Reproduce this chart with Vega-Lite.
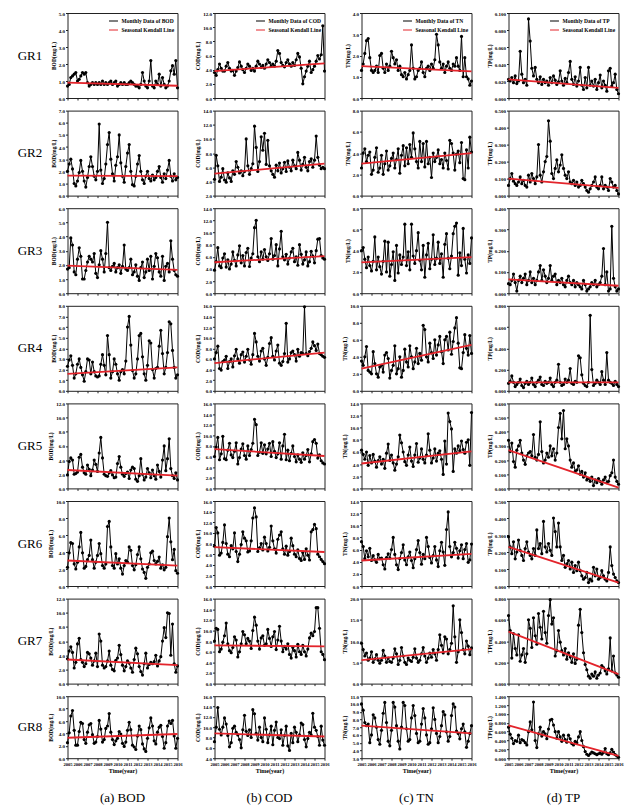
{
"$schema":"https://vega.github.io/schema/vega-lite/v6.json",
"padding":{"left":17.5,"top":10,"right":2,"bottom":0},
"config":{
 "font":"Liberation Serif",
 "view":{"stroke":"#222","strokeWidth":1},
 "mark":{"color":"black"},
 "line":{"strokeWidth":1},
 "point":{"size":10,"filled":true,"opacity":1},
 "axis":{"grid":false,"domain":false,"labelFontSize":5,"labelFontWeight":"bold","labelColor":"#000","titleFontSize":5.5,"titleFontWeight":"bold","titleColor":"#000","tickSize":2,"tickColor":"#222","labelPadding":1,"titlePadding":2},
 "axisX":{"tickCount":11,"labelFlush":false,"labelOverlap":false,"labelFontSize":4.6},
 "legend":{"orient":"top-right","offset":3,"labelFontSize":5.5,"labelFontWeight":"bold","labelColor":"#000","symbolType":"stroke","symbolStrokeWidth":1.6,"symbolSize":80,"rowPadding":0,"padding":0,"labelOffset":3},
 "text":{"fontSize":13}
},
"datasets":{
"k":[
{"t":2005,"b1":0.9,"b2":1.65,"b3":1.95,"b4":1.6,"b5":2.6,"b6":3.0,"b7":3.4,"b8":3.3,"c1":3.8,"c2":5.1,"c3":5.1,"c4":5.2,"c5":7.4,"c6":7.3,"c7":7.2,"c8":8.8,"n1":1.5,"n2":3.0,"n3":2.9,"n4":2.6,"n5":4.1,"n6":4.2,"n7":5.5,"n8":7.2,"p1":0.022,"p2":0.1,"p3":0.065,"p4":0.08,"p5":0.27,"p6":0.23,"p7":0.49,"p8":0.74},
{"t":2016,"b1":0.72,"b2":1.6,"b3":1.65,"b4":2.2,"b5":1.8,"b6":2.4,"b7":2.6,"b8":3.9,"c1":4.9,"c2":6.5,"c3":6.1,"c4":7.2,"c5":6.1,"c6":6.4,"c7":7.0,"c8":8.2,"n1":1.25,"n2":4.0,"n3":3.4,"n4":5.4,"n5":6.1,"n6":5.3,"n7":8.1,"n8":6.2,"p1":0.012,"p2":0.045,"p3":0.035,"p4":0.08,"p5":0.005,"p6":0.02,"p7":0.09,"p8":0.05}
],
"m":[
{"t":2005,"b1":0.7,"b2":2.0,"b3":1.7,"b4":2.3,"b5":1.9,"b6":2.2,"b7":3.5,"b8":2.5,"c1":3.6,"c2":4.3,"c3":3.8,"c4":6.0,"c5":6.0,"c6":7.5,"c7":8.0,"c8":7.2,"n1":1.3,"n2":2.6,"n3":4.0,"n4":3.5,"n5":6.3,"n6":7.3,"n7":9.5,"n8":10.0,"p1":0.022,"p2":0.06,"p3":0.045,"p4":0.07,"p5":0.34,"p6":0.29,"p7":0.64,"p8":0.7},
{"t":2005.17,"b1":0.8,"b2":2.6,"b3":1.8,"b4":2.9,"b5":3.8,"b6":3.9,"b7":4.6,"b8":4.1,"c1":3.2,"c2":7.7,"c3":5.2,"c4":7.2,"c5":7.8,"c6":11.0,"c7":10.4,"c8":10.0,"n1":1.6,"n2":4.0,"n3":4.3,"n4":3.0,"n5":5.6,"n6":6.5,"n7":8.0,"n8":9.2,"p1":0.02,"p2":0.1,"p3":0.04,"p4":0.09,"p5":0.26,"p6":0.23,"p7":0.5,"p8":0.54},
{"t":2005.33,"b1":1.2,"b2":3.0,"b3":3.9,"b4":3.3,"b5":4.3,"b6":5.1,"b7":5.2,"b8":6.8,"c1":4.0,"c2":6.2,"c3":7.5,"c4":8.4,"c5":9.6,"c6":10.0,"c7":10.2,"c8":13.8,"n1":2.1,"n2":4.4,"n3":3.2,"n4":4.0,"n5":4.8,"n6":4.5,"n7":6.5,"n8":7.6,"p1":0.024,"p2":0.13,"p3":0.06,"p4":0.14,"p5":0.32,"p6":0.19,"p7":0.24,"p8":0.45},
{"t":2005.5,"b1":1.3,"b2":2.2,"b3":3.4,"b4":2.4,"b5":4.0,"b6":5.0,"b7":4.4,"b8":7.7,"c1":4.8,"c2":4.0,"c3":4.5,"c4":4.2,"c5":5.4,"c6":5.8,"c7":6.0,"c8":9.6,"n1":2.7,"n2":3.2,"n3":2.4,"n4":5.2,"n5":6.0,"n6":5.8,"n7":7.2,"n8":7.2,"p1":0.018,"p2":0.085,"p3":0.09,"p4":0.08,"p5":0.19,"p6":0.26,"p7":0.47,"p8":0.33},
{"t":2005.67,"b1":1.4,"b2":1.0,"b3":1.5,"b4":1.2,"b5":2.0,"b6":2.6,"b7":2.2,"b8":4.5,"c1":4.2,"c2":4.6,"c3":4.2,"c4":3.9,"c5":6.5,"c6":6.2,"c7":6.5,"c8":8.5,"n1":2.8,"n2":3.8,"n3":3.4,"n4":2.4,"n5":3.8,"n6":4.8,"n7":5.5,"n8":7.4,"p1":0.026,"p2":0.07,"p3":0.05,"p4":0.04,"p5":0.15,"p6":0.16,"p7":0.33,"p8":0.4},
{"t":2005.83,"b1":1.5,"b2":0.8,"b3":1.3,"b4":1.6,"b5":2.1,"b6":2.0,"b7":3.0,"b8":2.1,"c1":3.8,"c2":5.8,"c3":5.8,"c4":5.5,"c5":9.8,"c6":8.2,"c7":7.8,"c8":10.0,"n1":1.9,"n2":4.1,"n3":2.6,"n4":2.2,"n5":5.4,"n6":6.2,"n7":6.0,"n8":5.0,"p1":0.017,"p2":0.06,"p3":0.01,"p4":0.06,"p5":0.27,"p6":0.2,"p7":0.27,"p8":0.38},
{"t":2006,"b1":1.0,"b2":1.2,"b3":2.4,"b4":2.5,"b5":2.3,"b6":2.8,"b7":5.6,"b8":2.1,"c1":3.8,"c2":4.2,"c3":6.5,"c4":5.8,"c5":5.6,"c6":11.5,"c7":9.0,"c8":11.8,"n1":1.3,"n2":2.0,"n3":2.1,"n4":2.0,"n5":4.2,"n6":4.2,"n7":7.5,"n8":6.0,"p1":0.02,"p2":0.08,"p3":0.06,"p4":0.08,"p5":0.3,"p6":0.27,"p7":0.46,"p8":0.52},
{"t":2006.17,"b1":1.1,"b2":1.9,"b3":3.2,"b4":3.0,"b5":4.4,"b6":4.6,"b7":6.4,"b8":4.3,"c1":4.5,"c2":3.9,"c3":4.3,"c4":6.5,"c5":5.4,"c6":8.0,"c7":11.4,"c8":10.6,"n1":1.2,"n2":2.4,"n3":3.0,"n4":4.6,"n5":5.6,"n6":5.0,"n7":5.0,"n8":8.6,"p1":0.055,"p2":0.11,"p3":0.08,"p4":0.11,"p5":0.34,"p6":0.21,"p7":0.21,"p8":0.35},
{"t":2006.33,"b1":1.3,"b2":2.9,"b3":2.6,"b4":2.2,"b5":4.8,"b6":6.3,"b7":3.4,"b8":5.8,"c1":5.0,"c2":5.2,"c3":5.5,"c4":4.2,"c5":7.2,"c6":6.0,"c7":7.5,"c8":8.4,"n1":1.3,"n2":3.6,"n3":5.3,"n4":3.2,"n5":4.5,"n6":4.3,"n7":5.8,"n8":8.2,"p1":0.028,"p2":0.07,"p3":0.05,"p4":0.05,"p5":0.25,"p6":0.18,"p7":0.27,"p8":0.42},
{"t":2006.5,"b1":1.5,"b2":2.0,"b3":1.0,"b4":1.5,"b5":3.0,"b6":3.9,"b7":3.0,"b8":5.6,"c1":4.2,"c2":4.5,"c3":4.0,"c4":5.5,"c5":8.5,"c6":5.5,"c7":6.2,"c8":6.2,"n1":1.5,"n2":4.5,"n3":2.2,"n4":2.0,"n5":3.5,"n6":3.9,"n7":6.8,"n8":7.0,"p1":0.018,"p2":0.09,"p3":0.07,"p4":0.03,"p5":0.2,"p6":0.15,"p7":0.33,"p8":0.4},
{"t":2006.67,"b1":1.4,"b2":1.2,"b3":1.0,"b4":0.9,"b5":2.2,"b6":2.1,"b7":2.4,"b8":3.0,"c1":3.8,"c2":4.0,"c3":4.8,"c4":6.0,"c5":6.3,"c6":7.6,"c7":5.8,"c8":7.0,"n1":1.2,"n2":2.2,"n3":3.4,"n4":1.6,"n5":4.6,"n6":5.2,"n7":5.5,"n8":5.4,"p1":0.022,"p2":0.06,"p3":0.09,"p4":0.07,"p5":0.17,"p6":0.22,"p7":0.2,"p8":0.35},
{"t":2006.83,"b1":1.5,"b2":0.7,"b3":1.6,"b4":1.8,"b5":2.0,"b6":2.3,"b7":2.8,"b8":2.4,"c1":3.9,"c2":5.5,"c3":6.8,"c4":4.5,"c5":5.8,"c6":7.0,"c7":6.8,"c8":9.8,"n1":2.0,"n2":2.6,"n3":2.5,"n4":2.8,"n5":5.2,"n6":4.5,"n7":4.8,"n8":4.8,"p1":0.015,"p2":0.05,"p3":0.04,"p4":0.09,"p5":0.23,"p6":0.26,"p7":0.28,"p8":0.3},
{"t":2007,"b1":0.9,"b2":1.5,"b3":2.2,"b4":3.0,"b5":3.3,"b6":3.1,"b7":4.4,"b8":4.2,"c1":3.2,"c2":5.0,"c3":5.4,"c4":6.6,"c5":7.0,"c6":10.0,"c7":8.8,"c8":10.2,"n1":2.1,"n2":3.8,"n3":1.8,"n4":3.0,"n5":4.0,"n6":4.6,"n7":5.5,"n8":6.6,"p1":0.093,"p2":0.12,"p3":0.06,"p4":0.06,"p5":0.25,"p6":0.2,"p7":0.6,"p8":0.6},
{"t":2007.17,"b1":0.7,"b2":2.4,"b3":2.6,"b4":2.9,"b5":2.7,"b6":3.6,"b7":4.2,"b8":5.4,"c1":3.8,"c2":6.8,"c3":4.5,"c4":7.8,"c5":8.6,"c6":6.5,"c7":8.2,"c8":9.0,"n1":1.4,"n2":2.0,"n3":3.0,"n4":2.2,"n5":4.8,"n6":3.5,"n7":7.8,"n8":8.8,"p1":0.067,"p2":0.08,"p3":0.1,"p4":0.08,"p5":0.26,"p6":0.18,"p7":0.52,"p8":0.82},
{"t":2007.33,"b1":0.8,"b2":3.2,"b3":2.4,"b4":1.6,"b5":1.8,"b6":5.4,"b7":3.6,"b8":5.6,"c1":4.3,"c2":6.0,"c3":6.3,"c4":6.0,"c5":4.6,"c6":4.6,"c7":5.0,"c8":8.5,"n1":1.2,"n2":3.0,"n3":4.9,"n4":4.2,"n5":3.3,"n6":2.8,"n7":6.5,"n8":10.2,"p1":0.035,"p2":0.13,"p3":0.05,"p4":0.12,"p5":0.23,"p6":0.16,"p7":0.34,"p8":0.64},
{"t":2007.5,"b1":0.9,"b2":2.4,"b3":2.2,"b4":2.7,"b5":2.6,"b6":3.1,"b7":2.6,"b8":3.8,"c1":5.1,"c2":5.2,"c3":7.8,"c4":5.2,"c5":5.8,"c6":6.0,"c7":6.0,"c8":7.6,"n1":1.6,"n2":4.2,"n3":2.0,"n4":4.5,"n5":5.8,"n6":4.7,"n7":5.0,"n8":7.6,"p1":0.026,"p2":0.1,"p3":0.07,"p4":0.06,"p5":0.38,"p6":0.22,"p7":0.62,"p8":1.27},
{"t":2007.67,"b1":0.8,"b2":1.6,"b3":2.8,"b4":1.8,"b5":4.0,"b6":2.1,"b7":3.2,"b8":2.4,"c1":4.5,"c2":5.5,"c3":5.0,"c4":6.8,"c5":7.4,"c6":7.8,"c7":7.5,"c8":6.0,"n1":1.3,"n2":2.4,"n3":4.8,"n4":3.8,"n5":7.3,"n6":5.3,"n7":6.0,"n8":5.2,"p1":0.036,"p2":0.07,"p3":0.04,"p4":0.04,"p5":0.22,"p6":0.18,"p7":0.45,"p8":0.4},
{"t":2007.83,"b1":0.9,"b2":1.3,"b3":1.4,"b4":1.4,"b5":3.4,"b6":2.8,"b7":4.3,"b8":2.6,"c1":4.0,"c2":4.8,"c3":6.2,"c4":7.3,"c5":8.4,"c6":10.2,"c7":9.8,"c8":9.5,"n1":1.5,"n2":2.8,"n3":1.6,"n4":1.5,"n5":4.6,"n6":4.6,"n7":5.2,"n8":4.6,"p1":0.022,"p2":0.11,"p3":0.06,"p4":0.08,"p5":0.2,"p6":0.33,"p7":0.37,"p8":0.24},
{"t":2008,"b1":0.8,"b2":2.0,"b3":1.1,"b4":1.3,"b5":2.4,"b6":3.6,"b7":2.4,"b8":3.5,"c1":3.6,"c2":5.4,"c3":4.5,"c4":5.4,"c5":6.2,"c6":9.0,"c7":9.2,"c8":12.3,"n1":2.2,"n2":3.5,"n3":2.7,"n4":2.4,"n5":5.5,"n6":6.0,"n7":5.0,"n8":6.6,"p1":0.018,"p2":0.3,"p3":0.1,"p4":0.1,"p5":0.24,"p6":0.22,"p7":0.66,"p8":0.55},
{"t":2008.17,"b1":0.9,"b2":5.9,"b3":2.0,"b4":1.4,"b5":5.0,"b6":5.0,"b7":7.0,"b8":6.1,"c1":4.2,"c2":10.0,"c3":6.7,"c4":6.5,"c5":5.5,"c6":8.5,"c7":7.5,"c8":9.2,"n1":1.9,"n2":4.0,"n3":3.9,"n4":3.0,"n5":4.2,"n6":8.0,"n7":6.0,"n8":10.2,"p1":0.025,"p2":0.12,"p3":0.13,"p4":0.13,"p5":0.47,"p6":0.25,"p7":0.53,"p8":0.7},
{"t":2008.33,"b1":0.8,"b2":2.1,"b3":3.0,"b4":2.5,"b5":7.2,"b6":3.8,"b7":6.0,"b8":4.7,"c1":4.8,"c2":6.2,"c3":7.4,"c4":7.8,"c5":8.0,"c6":6.4,"c7":8.5,"c8":8.4,"n1":1.6,"n2":2.6,"n3":1.2,"n4":5.3,"n5":3.0,"n6":5.2,"n7":8.2,"n8":9.6,"p1":0.016,"p2":0.08,"p3":0.06,"p4":0.06,"p5":0.26,"p6":0.19,"p7":0.42,"p8":0.5},
{"t":2008.5,"b1":1.0,"b2":1.0,"b3":2.4,"b4":3.4,"b5":4.3,"b6":2.4,"b7":2.6,"b8":2.6,"c1":4.5,"c2":5.0,"c3":4.4,"c4":5.8,"c5":6.2,"c6":6.6,"c7":8.0,"c8":9.5,"n1":1.8,"n2":3.4,"n3":4.5,"n4":2.0,"n5":4.0,"n6":3.5,"n7":7.0,"n8":7.2,"p1":0.022,"p2":0.14,"p3":0.11,"p4":0.05,"p5":0.18,"p6":0.38,"p7":0.68,"p8":0.6},
{"t":2008.67,"b1":0.8,"b2":1.4,"b3":1.5,"b4":2.4,"b5":2.0,"b6":2.1,"b7":2.2,"b8":3.0,"c1":3.9,"c2":5.8,"c3":5.8,"c4":5.0,"c5":7.3,"c6":8.5,"c7":6.6,"c8":8.0,"n1":1.3,"n2":4.4,"n3":1.9,"n4":2.6,"n5":5.2,"n6":2.7,"n7":4.5,"n8":5.2,"p1":0.018,"p2":0.2,"p3":0.08,"p4":0.09,"p5":0.2,"p6":0.23,"p7":0.48,"p8":0.55},
{"t":2008.83,"b1":0.9,"b2":2.6,"b3":2.8,"b4":1.5,"b5":1.8,"b6":2.6,"b7":2.4,"b8":4.8,"c1":4.2,"c2":6.5,"c3":6.5,"c4":6.8,"c5":8.5,"c6":12.8,"c7":10.0,"c8":13.4,"n1":1.5,"n2":2.1,"n3":3.6,"n4":4.0,"n5":8.8,"n6":4.5,"n7":5.5,"n8":4.2,"p1":0.02,"p2":0.23,"p3":0.05,"p4":0.07,"p5":0.25,"p6":0.2,"p7":0.38,"p8":0.44},
{"t":2009,"b1":0.8,"b2":4.2,"b3":5.0,"b4":5.2,"b5":1.7,"b6":7.0,"b7":3.2,"b8":5.2,"c1":3.8,"c2":11.8,"c3":10.8,"c4":10.8,"c5":13.0,"c6":14.7,"c7":12.5,"c8":12.6,"n1":1.1,"n2":3.8,"n3":2.7,"n4":1.6,"n5":7.5,"n6":5.5,"n7":8.5,"n8":7.0,"p1":0.015,"p2":0.44,"p3":0.07,"p4":0.08,"p5":0.22,"p6":0.25,"p7":0.64,"p8":0.66},
{"t":2009.17,"b1":0.9,"b2":5.2,"b3":1.8,"b4":3.4,"b5":2.2,"b6":7.6,"b7":4.6,"b8":7.2,"c1":4.5,"c2":8.8,"c3":12.0,"c4":9.2,"c5":12.0,"c6":13.0,"c7":11.0,"c8":8.8,"n1":1.0,"n2":4.7,"n3":3.4,"n4":2.4,"n5":6.0,"n6":6.8,"n7":6.5,"n8":10.2,"p1":0.024,"p2":0.32,"p3":0.13,"p4":0.12,"p5":0.3,"p6":0.21,"p7":0.79,"p8":0.86},
{"t":2009.33,"b1":1.0,"b2":3.0,"b3":1.6,"b4":1.2,"b5":2.5,"b6":4.6,"b7":2.6,"b8":4.2,"c1":5.2,"c2":5.4,"c3":6.0,"c4":6.5,"c5":6.2,"c6":6.5,"c7":8.0,"c8":7.5,"n1":1.2,"n2":2.8,"n3":6.5,"n4":4.9,"n5":4.4,"n6":4.3,"n7":5.0,"n8":9.8,"p1":0.018,"p2":0.13,"p3":0.06,"p4":0.06,"p5":0.23,"p6":0.18,"p7":0.56,"p8":0.88},
{"t":2009.5,"b1":0.8,"b2":1.8,"b3":1.9,"b4":1.8,"b5":1.9,"b6":2.4,"b7":2.0,"b8":3.0,"c1":4.8,"c2":6.8,"c3":5.2,"c4":5.6,"c5":6.8,"c6":7.2,"c7":6.5,"c8":10.0,"n1":0.9,"n2":4.5,"n3":2.6,"n4":3.4,"n5":3.8,"n6":3.5,"n7":4.5,"n8":6.8,"p1":0.026,"p2":0.1,"p3":0.08,"p4":0.04,"p5":0.28,"p6":0.4,"p7":0.62,"p8":0.75},
{"t":2009.67,"b1":0.9,"b2":1.2,"b3":2.1,"b4":3.0,"b5":1.5,"b6":2.1,"b7":1.8,"b8":2.2,"c1":4.3,"c2":10.3,"c3":6.8,"c4":7.5,"c5":8.6,"c6":8.0,"c7":8.6,"c8":8.0,"n1":1.1,"n2":3.0,"n3":3.9,"n4":2.8,"n5":5.5,"n6":4.8,"n7":6.0,"n8":5.2,"p1":0.021,"p2":0.16,"p3":0.09,"p4":0.08,"p5":0.2,"p6":0.32,"p7":0.26,"p8":0.6},
{"t":2009.83,"b1":1.0,"b2":2.5,"b3":1.5,"b4":2.5,"b5":1.6,"b6":3.8,"b7":3.3,"b8":2.8,"c1":4.6,"c2":8.4,"c3":5.6,"c4":8.0,"c5":6.6,"c6":6.8,"c7":9.0,"c8":7.2,"n1":1.3,"n2":4.8,"n3":2.2,"n4":5.3,"n5":6.8,"n6":5.6,"n7":5.5,"n8":5.4,"p1":0.016,"p2":0.21,"p3":0.04,"p4":0.1,"p5":0.25,"p6":0.23,"p7":0.31,"p8":0.45},
{"t":2010,"b1":0.7,"b2":3.2,"b3":1.8,"b4":1.6,"b5":3.5,"b6":2.6,"b7":3.6,"b8":3.2,"c1":4.2,"c2":10.8,"c3":7.2,"c4":6.0,"c5":8.2,"c6":9.2,"c7":7.2,"c8":11.8,"n1":2.5,"n2":3.6,"n3":6.5,"n4":4.0,"n5":4.5,"n6":4.2,"n7":5.2,"n8":8.2,"p1":0.019,"p2":0.14,"p3":0.06,"p4":0.25,"p5":0.43,"p6":0.37,"p7":0.5,"p8":0.6},
{"t":2010.17,"b1":0.8,"b2":5.0,"b3":2.0,"b4":1.0,"b5":4.5,"b6":3.2,"b7":5.4,"b8":4.3,"c1":4.8,"c2":6.4,"c3":6.0,"c4":4.8,"c5":6.5,"c6":8.0,"c7":7.5,"c8":9.6,"n1":1.4,"n2":5.9,"n3":3.5,"n4":2.6,"n5":3.6,"n6":3.0,"n7":6.2,"n8":9.8,"p1":0.032,"p2":0.18,"p3":0.05,"p4":0.08,"p5":0.53,"p6":0.23,"p7":0.39,"p8":0.48},
{"t":2010.33,"b1":0.9,"b2":2.7,"b3":1.4,"b4":1.8,"b5":3.0,"b6":2.1,"b7":4.1,"b8":3.9,"c1":5.4,"c2":9.8,"c3":5.4,"c4":6.3,"c5":7.4,"c6":6.6,"c7":10.2,"c8":7.0,"n1":0.9,"n2":4.4,"n3":2.8,"n4":3.4,"n5":5.5,"n6":4.5,"n7":8.2,"n8":8.5,"p1":0.02,"p2":0.24,"p3":0.07,"p4":0.05,"p5":0.35,"p6":0.15,"p7":0.31,"p8":0.38},
{"t":2010.5,"b1":0.8,"b2":1.6,"b3":1.9,"b4":2.0,"b5":2.0,"b6":1.4,"b7":2.6,"b8":2.4,"c1":5.0,"c2":6.2,"c3":6.5,"c4":8.9,"c5":8.5,"c6":7.3,"c7":8.5,"c8":8.5,"n1":1.0,"n2":3.2,"n3":4.0,"n4":5.0,"n5":7.4,"n6":6.0,"n7":6.0,"n8":6.2,"p1":0.015,"p2":0.16,"p3":0.04,"p4":0.06,"p5":0.55,"p6":0.18,"p7":0.27,"p8":0.52},
{"t":2010.67,"b1":0.9,"b2":1.1,"b3":3.4,"b4":1.6,"b5":1.7,"b6":2.4,"b7":1.8,"b8":1.9,"c1":4.5,"c2":5.5,"c3":9.0,"c4":10.0,"c5":6.0,"c6":11.3,"c7":7.0,"c8":10.2,"n1":1.3,"n2":2.6,"n3":5.7,"n4":3.2,"n5":4.3,"n6":7.5,"n7":5.0,"n8":5.0,"p1":0.023,"p2":0.12,"p3":0.03,"p4":0.11,"p5":0.28,"p6":0.11,"p7":0.33,"p8":0.42},
{"t":2010.83,"b1":0.8,"b2":2.4,"b3":1.7,"b4":2.8,"b5":2.1,"b6":3.0,"b7":2.4,"b8":2.6,"c1":4.8,"c2":5.0,"c3":5.6,"c4":6.5,"c5":8.8,"c6":8.5,"c7":8.8,"c8":6.6,"n1":1.4,"n2":5.1,"n3":3.1,"n4":4.4,"n5":5.0,"n6":5.5,"n7":5.5,"n8":5.2,"p1":0.018,"p2":0.1,"p3":0.06,"p4":0.08,"p5":0.35,"p6":0.13,"p7":0.23,"p8":0.36},
{"t":2011,"b1":0.8,"b2":3.5,"b3":1.6,"b4":6.0,"b5":2.3,"b6":2.8,"b7":3.2,"b8":4.5,"c1":4.5,"c2":4.6,"c3":6.2,"c4":5.8,"c5":7.0,"c6":7.0,"c7":9.8,"c8":9.4,"n1":1.7,"n2":3.2,"n3":2.2,"n4":3.6,"n5":6.5,"n6":3.6,"n7":7.0,"n8":7.4,"p1":0.03,"p2":0.14,"p3":0.08,"p4":0.1,"p5":0.3,"p6":0.15,"p7":0.29,"p8":0.52},
{"t":2011.17,"b1":0.9,"b2":4.2,"b3":1.8,"b4":7.0,"b5":1.4,"b6":4.6,"b7":2.9,"b8":5.8,"c1":5.2,"c2":6.3,"c3":8.0,"c4":7.5,"c5":5.8,"c6":6.2,"c7":6.4,"c8":11.0,"n1":1.2,"n2":4.9,"n3":4.5,"n4":7.7,"n5":4.8,"n6":5.2,"n7":8.5,"n8":9.4,"p1":0.043,"p2":0.08,"p3":0.05,"p4":0.21,"p5":0.2,"p6":0.1,"p7":0.25,"p8":0.44},
{"t":2011.33,"b1":1.0,"b2":2.0,"b3":2.4,"b4":4.3,"b5":2.6,"b6":4.2,"b7":2.2,"b8":4.6,"c1":6.7,"c2":5.5,"c3":4.5,"c4":8.6,"c5":6.5,"c6":8.8,"c7":8.2,"c8":8.0,"n1":1.0,"n2":2.7,"n3":1.5,"n4":7.2,"n5":4.2,"n6":4.5,"n7":6.5,"n8":8.2,"p1":0.022,"p2":0.07,"p3":0.04,"p4":0.07,"p5":0.15,"p6":0.14,"p7":0.2,"p8":0.33},
{"t":2011.5,"b1":0.9,"b2":0.9,"b3":1.3,"b4":1.9,"b5":3.0,"b6":2.4,"b7":1.6,"b8":2.1,"c1":6.3,"c2":6.6,"c3":7.3,"c4":5.2,"c5":8.6,"c6":9.6,"c7":10.8,"c8":7.8,"n1":1.4,"n2":5.1,"n3":3.6,"n4":4.0,"n5":5.5,"n6":8.0,"n7":5.0,"n8":6.0,"p1":0.016,"p2":0.09,"p3":0.06,"p4":0.06,"p5":0.18,"p6":0.08,"p7":0.28,"p8":0.3},
{"t":2011.67,"b1":0.8,"b2":0.8,"b3":1.5,"b4":1.2,"b5":2.8,"b6":1.9,"b7":3.4,"b8":1.8,"c1":5.0,"c2":5.2,"c3":10.2,"c4":4.8,"c5":5.5,"c6":10.2,"c7":8.0,"c8":9.5,"n1":1.5,"n2":3.0,"n3":4.7,"n4":3.4,"n5":9.0,"n6":6.5,"n7":6.0,"n8":4.8,"p1":0.025,"p2":0.06,"p3":0.03,"p4":0.09,"p5":0.12,"p6":0.12,"p7":0.19,"p8":0.38},
{"t":2011.83,"b1":0.7,"b2":1.6,"b3":2.0,"b4":1.6,"b5":1.3,"b6":2.5,"b7":5.0,"b8":1.4,"c1":4.6,"c2":5.8,"c3":6.0,"c4":5.5,"c5":8.0,"c6":7.0,"c7":6.0,"c8":6.5,"n1":1.3,"n2":3.6,"n3":2.3,"n4":5.6,"n5":6.3,"n6":4.7,"n7":7.2,"n8":5.0,"p1":0.014,"p2":0.08,"p3":0.05,"p4":0.08,"p5":0.13,"p6":0.09,"p7":0.23,"p8":0.35},
{"t":2012,"b1":0.7,"b2":2.6,"b3":1.2,"b4":3.0,"b5":1.0,"b6":3.7,"b7":4.2,"b8":3.6,"c1":4.4,"c2":6.7,"c3":5.5,"c4":7.0,"c5":10.2,"c6":6.0,"c7":7.0,"c8":8.4,"n1":1.6,"n2":1.7,"n3":3.2,"n4":4.5,"n5":4.2,"n6":3.8,"n7":6.2,"n8":6.8,"p1":0.02,"p2":0.05,"p3":0.04,"p4":0.33,"p5":0.16,"p6":0.14,"p7":0.55,"p8":0.48},
{"t":2012.17,"b1":0.6,"b2":3.3,"b3":0.9,"b4":5.2,"b5":1.8,"b6":4.6,"b7":2.4,"b8":5.2,"c1":5.0,"c2":5.4,"c3":6.4,"c4":12.7,"c5":5.4,"c6":7.5,"c7":6.5,"c8":10.2,"n1":1.4,"n2":4.0,"n3":5.5,"n4":3.8,"n5":5.0,"n6":5.0,"n7":8.0,"n8":9.5,"p1":0.036,"p2":0.06,"p3":0.03,"p4":0.31,"p5":0.1,"p6":0.09,"p7":0.7,"p8":0.6},
{"t":2012.33,"b1":0.8,"b2":2.0,"b3":1.8,"b4":5.4,"b5":4.2,"b6":3.2,"b7":1.7,"b8":4.6,"c1":5.4,"c2":6.9,"c3":4.8,"c4":5.4,"c5":7.2,"c6":5.8,"c7":7.5,"c8":6.4,"n1":1.8,"n2":3.2,"n3":2.7,"n4":6.0,"n5":6.5,"n6":6.5,"n7":7.0,"n8":8.0,"p1":0.015,"p2":0.09,"p3":0.02,"p4":0.15,"p5":0.12,"p6":0.06,"p7":0.48,"p8":0.4},
{"t":2012.5,"b1":1.5,"b2":1.3,"b3":2.2,"b4":3.2,"b5":2.0,"b6":2.0,"b7":1.2,"b8":2.3,"c1":4.8,"c2":6.0,"c3":5.8,"c4":6.0,"c5":5.2,"c6":6.5,"c7":5.5,"c8":5.5,"n1":3.0,"n2":3.6,"n3":3.3,"n4":4.2,"n5":4.5,"n6":4.3,"n7":5.5,"n8":6.2,"p1":0.01,"p2":0.07,"p3":0.06,"p4":0.07,"p5":0.08,"p6":0.04,"p7":0.29,"p8":0.26},
{"t":2012.67,"b1":1.0,"b2":1.0,"b3":1.1,"b4":1.6,"b5":1.2,"b6":1.6,"b7":2.8,"b8":1.5,"c1":4.5,"c2":5.5,"c3":6.8,"c4":7.2,"c5":6.6,"c6":9.0,"c7":4.8,"c8":8.8,"n1":2.5,"n2":4.3,"n3":4.8,"n4":5.4,"n5":5.8,"n6":3.2,"n7":8.0,"n8":5.0,"p1":0.024,"p2":0.05,"p3":0.04,"p4":0.05,"p5":0.11,"p6":0.05,"p7":0.18,"p8":0.15},
{"t":2012.83,"b1":0.7,"b2":1.6,"b3":1.5,"b4":1.0,"b5":1.6,"b6":0.9,"b7":4.3,"b8":1.1,"c1":5.0,"c2":7.0,"c3":7.4,"c4":7.5,"c5":8.0,"c6":7.6,"c7":6.8,"c8":7.0,"n1":1.7,"n2":3.0,"n3":2.8,"n4":6.4,"n5":6.2,"n6":5.8,"n7":11.5,"n8":5.8,"p1":0.012,"p2":0.03,"p3":0.01,"p4":0.04,"p5":0.06,"p6":0.08,"p7":0.13,"p8":0.09},
{"t":2013,"b1":0.6,"b2":2.0,"b3":2.4,"b4":2.4,"b5":2.8,"b6":2.2,"b7":2.2,"b8":3.2,"c1":4.6,"c2":6.2,"c3":5.2,"c4":6.8,"c5":6.0,"c6":6.0,"c7":6.2,"c8":10.0,"n1":1.4,"n2":3.4,"n3":3.7,"n4":4.6,"n5":4.8,"n6":7.2,"n7":9.0,"n8":7.2,"p1":0.036,"p2":0.02,"p3":0.02,"p4":0.08,"p5":0.07,"p6":0.02,"p7":0.07,"p8":0.06},
{"t":2013.17,"b1":1.0,"b2":1.4,"b3":1.6,"b4":4.7,"b5":2.2,"b6":2.6,"b7":2.7,"b8":4.9,"c1":5.4,"c2":5.8,"c3":6.0,"c4":5.6,"c5":5.0,"c6":5.5,"c7":5.0,"c8":9.0,"n1":1.6,"n2":2.6,"n3":1.5,"n4":3.2,"n5":2.3,"n6":5.6,"n7":7.2,"n8":9.0,"p1":0.015,"p2":0.04,"p3":0.03,"p4":0.71,"p5":0.05,"p6":0.04,"p7":0.05,"p8":0.1},
{"t":2013.33,"b1":2.2,"b2":1.2,"b3":2.6,"b4":4.5,"b5":1.5,"b6":3.9,"b7":3.0,"b8":6.5,"c1":6.3,"c2":8.1,"c3":4.6,"c4":7.8,"c5":6.3,"c6":6.8,"c7":7.4,"c8":7.2,"n1":1.2,"n2":4.0,"n3":4.6,"n4":6.0,"n5":7.8,"n6":3.4,"n7":11.0,"n8":8.6,"p1":0.02,"p2":0.06,"p3":0.05,"p4":0.2,"p5":0.08,"p6":0.03,"p7":0.09,"p8":0.14},
{"t":2013.5,"b1":0.7,"b2":1.7,"b3":1.0,"b4":2.0,"b5":2.6,"b6":4.1,"b7":2.8,"b8":5.2,"c1":5.8,"c2":7.0,"c3":8.0,"c4":6.5,"c5":5.5,"c6":5.2,"c7":6.0,"c8":8.5,"n1":1.5,"n2":3.3,"n3":5.6,"n4":6.4,"n5":4.0,"n6":9.3,"n7":10.5,"n8":6.4,"p1":0.014,"p2":0.08,"p3":0.04,"p4":0.05,"p5":0.02,"p6":0.11,"p7":0.07,"p8":0.12},
{"t":2013.67,"b1":0.6,"b2":1.3,"b3":1.9,"b4":1.2,"b5":1.8,"b6":3.0,"b7":3.1,"b8":2.8,"c1":4.2,"c2":5.6,"c3":6.4,"c4":7.2,"c5":4.9,"c6":4.8,"c7":5.5,"c8":10.8,"n1":1.7,"n2":2.5,"n3":3.3,"n4":4.8,"n5":12.4,"n6":12.2,"n7":7.0,"n8":5.2,"p1":0.022,"p2":0.11,"p3":0.06,"p4":0.07,"p5":0.06,"p6":0.06,"p7":0.11,"p8":0.1},
{"t":2013.83,"b1":1.0,"b2":1.5,"b3":2.8,"b4":2.1,"b5":1.3,"b6":2.6,"b7":4.0,"b8":2.3,"c1":2.0,"c2":6.4,"c3":4.8,"c4":7.0,"c5":6.7,"c6":6.3,"c7":7.2,"c8":10.5,"n1":1.4,"n2":5.2,"n3":2.3,"n4":6.9,"n5":11.0,"n6":6.5,"n7":8.0,"n8":5.8,"p1":0.01,"p2":0.05,"p3":0.03,"p4":0.1,"p5":0.04,"p6":0.1,"p7":0.05,"p8":0.08},
{"t":2014,"b1":0.8,"b2":2.0,"b3":2.5,"b4":2.2,"b5":3.3,"b6":2.9,"b7":2.5,"b8":4.2,"c1":3.0,"c2":7.4,"c3":5.5,"c4":15.8,"c5":5.5,"c6":5.0,"c7":6.0,"c8":7.6,"n1":1.3,"n2":4.9,"n3":3.5,"n4":4.3,"n5":9.8,"n6":4.8,"n7":9.5,"n8":8.5,"p1":0.018,"p2":0.04,"p3":0.04,"p4":0.08,"p5":0.07,"p6":0.04,"p7":0.08,"p8":0.1},
{"t":2014.17,"b1":1.4,"b2":2.4,"b3":1.5,"b4":4.2,"b5":2.4,"b6":3.4,"b7":3.2,"b8":5.0,"c1":3.8,"c2":6.0,"c3":6.8,"c4":7.0,"c5":6.2,"c6":7.0,"c7":5.2,"c8":6.2,"n1":1.6,"n2":4.0,"n3":5.6,"n4":5.8,"n5":2.8,"n6":5.5,"n7":18.3,"n8":10.0,"p1":0.027,"p2":0.06,"p3":0.05,"p4":0.06,"p5":0.05,"p6":0.05,"p7":0.1,"p8":0.12},
{"t":2014.33,"b1":0.7,"b2":1.5,"b3":1.2,"b4":5.7,"b5":1.6,"b6":2.1,"b7":3.8,"b8":5.3,"c1":4.5,"c2":5.5,"c3":4.5,"c4":6.6,"c5":7.3,"c6":5.8,"c7":6.5,"c8":7.8,"n1":1.5,"n2":2.4,"n3":6.3,"n4":7.4,"n5":6.5,"n6":7.2,"n7":11.0,"n8":9.6,"p1":0.012,"p2":0.11,"p3":0.08,"p4":0.18,"p5":0.03,"p6":0.09,"p7":0.17,"p8":0.09},
{"t":2014.5,"b1":1.2,"b2":1.1,"b3":2.6,"b4":3.5,"b5":4.0,"b6":2.5,"b7":6.0,"b8":3.5,"c1":5.2,"c2":6.8,"c3":5.2,"c4":7.4,"c5":5.0,"c6":4.9,"c7":8.6,"c8":9.0,"n1":1.9,"n2":3.9,"n3":6.6,"n4":8.6,"n5":5.8,"n6":6.2,"n7":5.0,"n8":6.5,"p1":0.02,"p2":0.04,"p3":0.21,"p4":0.1,"p5":0.06,"p6":0.06,"p7":0.15,"p8":0.13},
{"t":2014.67,"b1":0.8,"b2":1.8,"b3":0.9,"b4":1.6,"b5":6.0,"b6":1.9,"b7":7.9,"b8":1.6,"c1":3.6,"c2":7.2,"c3":6.9,"c4":8.0,"c5":6.5,"c6":10.2,"c7":9.5,"c8":8.5,"n1":1.5,"n2":4.2,"n3":1.7,"n4":5.6,"n5":7.0,"n6":4.6,"n7":7.5,"n8":6.2,"p1":0.015,"p2":0.06,"p3":0.04,"p4":0.06,"p5":0.08,"p6":0.04,"p7":0.12,"p8":0.22},
{"t":2014.83,"b1":0.6,"b2":1.4,"b3":1.9,"b4":2.2,"b5":2.5,"b6":2.2,"b7":6.5,"b8":2.5,"c1":4.0,"c2":6.0,"c3":6.1,"c4":9.2,"c5":8.8,"c6":10.6,"c7":9.0,"c8":12.7,"n1":1.3,"n2":3.1,"n3":3.8,"n4":2.7,"n5":6.2,"n6":5.8,"n7":15.0,"n8":5.5,"p1":0.008,"p2":0.05,"p3":0.1,"p4":0.36,"p5":0.04,"p6":0.03,"p7":0.09,"p8":0.1},
{"t":2015,"b1":0.7,"b2":2.1,"b3":2.1,"b4":3.6,"b5":4.2,"b6":5.8,"b7":10.0,"b8":5.2,"c1":4.5,"c2":7.0,"c3":5.0,"c4":8.5,"c5":9.2,"c6":11.6,"c7":9.8,"c8":10.0,"n1":2.9,"n2":5.0,"n3":2.6,"n4":2.6,"n5":7.8,"n6":6.8,"n7":12.0,"n8":6.8,"p1":0.032,"p2":0.03,"p3":0.01,"p4":0.1,"p5":0.05,"p6":0.08,"p7":0.14,"p8":0.08},
{"t":2015.17,"b1":1.0,"b2":2.9,"b3":1.5,"b4":6.5,"b5":7.0,"b6":8.0,"b7":9.9,"b8":6.0,"c1":5.2,"c2":10.4,"c3":7.0,"c4":7.6,"c5":8.5,"c6":10.8,"c7":14.3,"c8":9.4,"n1":1.0,"n2":1.6,"n3":6.1,"n4":4.5,"n5":6.4,"n6":4.5,"n7":8.0,"n8":7.4,"p1":0.035,"p2":0.1,"p3":0.02,"p4":0.08,"p5":0.09,"p6":0.23,"p7":0.43,"p8":0.12},
{"t":2015.33,"b1":1.6,"b2":1.6,"b3":3.7,"b4":6.3,"b5":2.8,"b6":5.2,"b7":4.0,"b8":5.6,"c1":6.0,"c2":7.4,"c3":8.9,"c4":8.8,"c5":5.7,"c6":6.0,"c7":14.3,"c8":8.2,"n1":1.9,"n2":1.5,"n3":3.2,"n4":6.6,"n5":5.8,"n6":6.0,"n7":7.0,"n8":6.4,"p1":0.014,"p2":0.08,"p3":0.315,"p4":0.07,"p5":0.11,"p6":0.12,"p7":0.12,"p8":0.2},
{"t":2015.5,"b1":1.9,"b2":1.2,"b3":2.4,"b4":3.8,"b5":1.8,"b6":3.1,"b7":8.4,"b8":6.1,"c1":5.5,"c2":6.3,"c3":9.0,"c4":7.0,"c5":6.3,"c6":5.5,"c7":10.4,"c8":6.5,"n1":1.0,"n2":4.3,"n3":1.9,"n4":5.0,"n5":7.6,"n6":7.0,"n7":10.0,"n8":4.4,"p1":0.018,"p2":0.05,"p3":0.07,"p4":0.05,"p5":0.2,"p6":0.07,"p7":0.26,"p8":0.14},
{"t":2015.67,"b1":1.4,"b2":1.8,"b3":1.6,"b4":2.2,"b5":1.4,"b6":4.3,"b7":2.8,"b8":3.6,"c1":6.1,"c2":5.8,"c3":6.2,"c4":6.8,"c5":5.2,"c6":5.0,"c7":6.0,"c8":10.2,"n1":0.9,"n2":2.6,"n3":3.6,"n4":4.2,"n5":8.0,"n6":3.9,"n7":8.8,"n8":5.2,"p1":0.028,"p2":0.06,"p3":0.03,"p4":0.09,"p5":0.08,"p6":0.05,"p7":0.1,"p8":0.08},
{"t":2015.83,"b1":2.2,"b2":1.3,"b3":1.3,"b4":1.2,"b5":2.2,"b6":1.8,"b7":1.6,"b8":1.6,"c1":10.2,"c2":6.0,"c3":5.8,"c4":6.5,"c5":4.8,"c6":4.6,"c7":5.5,"c8":7.5,"n1":0.6,"n2":5.5,"n3":2.8,"n4":6.5,"n5":3.8,"n6":4.3,"n7":6.8,"n8":6.2,"p1":0.01,"p2":0.03,"p3":0.01,"p4":0.06,"p5":0.05,"p6":0.03,"p7":0.08,"p8":0.05},
{"t":2016,"b1":0.6,"b2":1.5,"b3":1.2,"b4":1.5,"b5":1.2,"b6":1.5,"b7":2.5,"b8":3.2,"c1":3.8,"c2":5.8,"c3":5.6,"c4":6.3,"c5":4.6,"c6":4.2,"c7":4.5,"c8":6.5,"n1":0.8,"n2":4.1,"n3":5.2,"n4":4.4,"n5":12.5,"n6":6.9,"n7":8.4,"n8":7.2,"p1":0.005,"p2":0.01,"p3":0.02,"p4":0.04,"p5":0.03,"p6":0.02,"p7":0.06,"p8":0.02}
]
},
"resolve":{"scale":{"color":"independent"},"legend":{"color":"independent"}},
"columns":5,
"bounds":"flush",
"align":"each",
"spacing":{"row":12.6,"column":37},
"concat":[
{"width":1,"height":85,"view":{"stroke":null},"data":{"values":[{"g":"GR1"}]},"mark":"text","encoding":{"text":{"field":"g"}}},
{"width":110,"height":85,"encoding":{"x":{"field":"t","type":"quantitative","scale":{"domain":[2005,2016],"nice":false},"axis":{"labels":false,"title":null}},"y":{"field":"b1","type":"quantitative","scale":{"domain":[0,5],"nice":false},"axis":{"title":"BOD(mg/L)","values":[0,1,2,3,4,5],"format":".1f"}}},"layer":[{"data":{"name":"m"},"mark":{"type":"line","point":true},"encoding":{"color":{"datum":"Monthly Data of BOD","type":"nominal","scale":{"domain":["Monthly Data of BOD","Seasonal Kendall Line"],"range":["#000000","#e3242b"]},"legend":{"title":null}}}},{"data":{"name":"k"},"mark":{"type":"line","strokeWidth":1.8},"encoding":{"color":{"datum":"Seasonal Kendall Line","type":"nominal"}}}]},
{"width":110,"height":85,"encoding":{"x":{"field":"t","type":"quantitative","scale":{"domain":[2005,2016],"nice":false},"axis":{"labels":false,"title":null}},"y":{"field":"c1","type":"quantitative","scale":{"domain":[0,12],"nice":false},"axis":{"title":"COD(mg/L)","values":[0,2,4,6,8,10,12],"format":".1f"}}},"layer":[{"data":{"name":"m"},"mark":{"type":"line","point":true},"encoding":{"color":{"datum":"Monthly Data of COD","type":"nominal","scale":{"domain":["Monthly Data of COD","Seasonal Kendall Line"],"range":["#000000","#e3242b"]},"legend":{"title":null}}}},{"data":{"name":"k"},"mark":{"type":"line","strokeWidth":1.8},"encoding":{"color":{"datum":"Seasonal Kendall Line","type":"nominal"}}}]},
{"width":110,"height":85,"encoding":{"x":{"field":"t","type":"quantitative","scale":{"domain":[2005,2016],"nice":false},"axis":{"labels":false,"title":null}},"y":{"field":"n1","type":"quantitative","scale":{"domain":[0,4],"nice":false},"axis":{"title":"TN(mg/L)","values":[0,1,2,3,4],"format":".1f"}}},"layer":[{"data":{"name":"m"},"mark":{"type":"line","point":true},"encoding":{"color":{"datum":"Monthly Data of TN","type":"nominal","scale":{"domain":["Monthly Data of TN","Seasonal Kendall Line"],"range":["#000000","#e3242b"]},"legend":{"title":null}}}},{"data":{"name":"k"},"mark":{"type":"line","strokeWidth":1.8},"encoding":{"color":{"datum":"Seasonal Kendall Line","type":"nominal"}}}]},
{"width":110,"height":85,"encoding":{"x":{"field":"t","type":"quantitative","scale":{"domain":[2005,2016],"nice":false},"axis":{"labels":false,"title":null}},"y":{"field":"p1","type":"quantitative","scale":{"domain":[0,0.1],"nice":false},"axis":{"title":"TP(mg/L)","values":[0,0.02,0.04,0.06,0.08,0.1],"format":".3f"}}},"layer":[{"data":{"name":"m"},"mark":{"type":"line","point":true},"encoding":{"color":{"datum":"Monthly Data of TP","type":"nominal","scale":{"domain":["Monthly Data of TP","Seasonal Kendall Line"],"range":["#000000","#e3242b"]},"legend":{"title":null}}}},{"data":{"name":"k"},"mark":{"type":"line","strokeWidth":1.8},"encoding":{"color":{"datum":"Seasonal Kendall Line","type":"nominal"}}}]},

{"width":1,"height":85,"view":{"stroke":null},"data":{"values":[{"g":"GR2"}]},"mark":"text","encoding":{"text":{"field":"g"}}},
{"width":110,"height":85,"encoding":{"x":{"field":"t","type":"quantitative","scale":{"domain":[2005,2016],"nice":false},"axis":{"labels":false,"title":null}},"y":{"field":"b2","type":"quantitative","scale":{"domain":[0,7],"nice":false},"axis":{"title":"BOD(mg/L)","values":[0,1,2,3,4,5,6,7],"format":".1f"}}},"layer":[{"data":{"name":"m"},"mark":{"type":"line","point":true}},{"data":{"name":"k"},"mark":{"type":"line","color":"#e3242b","strokeWidth":1.8}}]},
{"width":110,"height":85,"encoding":{"x":{"field":"t","type":"quantitative","scale":{"domain":[2005,2016],"nice":false},"axis":{"labels":false,"title":null}},"y":{"field":"c2","type":"quantitative","scale":{"domain":[2,14],"nice":false,"zero":false},"axis":{"title":"COD(mg/L)","values":[2,4,6,8,10,12,14],"format":".1f"}}},"layer":[{"data":{"name":"m"},"mark":{"type":"line","point":true}},{"data":{"name":"k"},"mark":{"type":"line","color":"#e3242b","strokeWidth":1.8}}]},
{"width":110,"height":85,"encoding":{"x":{"field":"t","type":"quantitative","scale":{"domain":[2005,2016],"nice":false},"axis":{"labels":false,"title":null}},"y":{"field":"n2","type":"quantitative","scale":{"domain":[0,8],"nice":false},"axis":{"title":"TN(mg/L)","values":[0,2,4,6,8],"format":".1f"}}},"layer":[{"data":{"name":"m"},"mark":{"type":"line","point":true}},{"data":{"name":"k"},"mark":{"type":"line","color":"#e3242b","strokeWidth":1.8}}]},
{"width":110,"height":85,"encoding":{"x":{"field":"t","type":"quantitative","scale":{"domain":[2005,2016],"nice":false},"axis":{"labels":false,"title":null}},"y":{"field":"p2","type":"quantitative","scale":{"domain":[0,0.5],"nice":false},"axis":{"title":"TP(mg/L)","values":[0,0.1,0.2,0.3,0.4,0.5],"format":".3f"}}},"layer":[{"data":{"name":"m"},"mark":{"type":"line","point":true}},{"data":{"name":"k"},"mark":{"type":"line","color":"#e3242b","strokeWidth":1.8}}]},

{"width":1,"height":85,"view":{"stroke":null},"data":{"values":[{"g":"GR3"}]},"mark":"text","encoding":{"text":{"field":"g"}}},
{"width":110,"height":85,"encoding":{"x":{"field":"t","type":"quantitative","scale":{"domain":[2005,2016],"nice":false},"axis":{"labels":false,"title":null}},"y":{"field":"b3","type":"quantitative","scale":{"domain":[0,6],"nice":false},"axis":{"title":"BOD(mg/L)","values":[0,1,2,3,4,5,6],"format":".1f"}}},"layer":[{"data":{"name":"m"},"mark":{"type":"line","point":true}},{"data":{"name":"k"},"mark":{"type":"line","color":"#e3242b","strokeWidth":1.8}}]},
{"width":110,"height":85,"encoding":{"x":{"field":"t","type":"quantitative","scale":{"domain":[2005,2016],"nice":false},"axis":{"labels":false,"title":null}},"y":{"field":"c3","type":"quantitative","scale":{"domain":[0,14],"nice":false},"axis":{"title":"COD(mg/L)","values":[0,2,4,6,8,10,12,14],"format":".1f"}}},"layer":[{"data":{"name":"m"},"mark":{"type":"line","point":true}},{"data":{"name":"k"},"mark":{"type":"line","color":"#e3242b","strokeWidth":1.8}}]},
{"width":110,"height":85,"encoding":{"x":{"field":"t","type":"quantitative","scale":{"domain":[2005,2016],"nice":false},"axis":{"labels":false,"title":null}},"y":{"field":"n3","type":"quantitative","scale":{"domain":[0,8],"nice":false},"axis":{"title":"TN(mg/L)","values":[0,2,4,6,8],"format":".1f"}}},"layer":[{"data":{"name":"m"},"mark":{"type":"line","point":true}},{"data":{"name":"k"},"mark":{"type":"line","color":"#e3242b","strokeWidth":1.8}}]},
{"width":110,"height":85,"encoding":{"x":{"field":"t","type":"quantitative","scale":{"domain":[2005,2016],"nice":false},"axis":{"labels":false,"title":null}},"y":{"field":"p3","type":"quantitative","scale":{"domain":[0,0.4],"nice":false},"axis":{"title":"TP(mg/L)","values":[0,0.1,0.2,0.3,0.4],"format":".3f"}}},"layer":[{"data":{"name":"m"},"mark":{"type":"line","point":true}},{"data":{"name":"k"},"mark":{"type":"line","color":"#e3242b","strokeWidth":1.8}}]},

{"width":1,"height":85,"view":{"stroke":null},"data":{"values":[{"g":"GR4"}]},"mark":"text","encoding":{"text":{"field":"g"}}},
{"width":110,"height":85,"encoding":{"x":{"field":"t","type":"quantitative","scale":{"domain":[2005,2016],"nice":false},"axis":{"labels":false,"title":null}},"y":{"field":"b4","type":"quantitative","scale":{"domain":[0,8],"nice":false},"axis":{"title":"BOD(mg/L)","values":[0,1,2,3,4,5,6,7,8],"format":".1f"}}},"layer":[{"data":{"name":"m"},"mark":{"type":"line","point":true}},{"data":{"name":"k"},"mark":{"type":"line","color":"#e3242b","strokeWidth":1.8}}]},
{"width":110,"height":85,"encoding":{"x":{"field":"t","type":"quantitative","scale":{"domain":[2005,2016],"nice":false},"axis":{"labels":false,"title":null}},"y":{"field":"c4","type":"quantitative","scale":{"domain":[0,16],"nice":false},"axis":{"title":"COD(mg/L)","values":[0,2,4,6,8,10,12,14,16],"format":".1f"}}},"layer":[{"data":{"name":"m"},"mark":{"type":"line","point":true}},{"data":{"name":"k"},"mark":{"type":"line","color":"#e3242b","strokeWidth":1.8}}]},
{"width":110,"height":85,"encoding":{"x":{"field":"t","type":"quantitative","scale":{"domain":[2005,2016],"nice":false},"axis":{"labels":false,"title":null}},"y":{"field":"n4","type":"quantitative","scale":{"domain":[0,10],"nice":false},"axis":{"title":"TN(mg/L)","values":[0,2,4,6,8,10],"format":".1f"}}},"layer":[{"data":{"name":"m"},"mark":{"type":"line","point":true}},{"data":{"name":"k"},"mark":{"type":"line","color":"#e3242b","strokeWidth":1.8}}]},
{"width":110,"height":85,"encoding":{"x":{"field":"t","type":"quantitative","scale":{"domain":[2005,2016],"nice":false},"axis":{"labels":false,"title":null}},"y":{"field":"p4","type":"quantitative","scale":{"domain":[0,0.8],"nice":false},"axis":{"title":"TP(mg/L)","values":[0,0.2,0.4,0.6,0.8],"format":".3f"}}},"layer":[{"data":{"name":"m"},"mark":{"type":"line","point":true}},{"data":{"name":"k"},"mark":{"type":"line","color":"#e3242b","strokeWidth":1.8}}]},

{"width":1,"height":85,"view":{"stroke":null},"data":{"values":[{"g":"GR5"}]},"mark":"text","encoding":{"text":{"field":"g"}}},
{"width":110,"height":85,"encoding":{"x":{"field":"t","type":"quantitative","scale":{"domain":[2005,2016],"nice":false},"axis":{"labels":false,"title":null}},"y":{"field":"b5","type":"quantitative","scale":{"domain":[0,12],"nice":false},"axis":{"title":"BOD(mg/L)","values":[0,2,4,6,8,10,12],"format":".1f"}}},"layer":[{"data":{"name":"m"},"mark":{"type":"line","point":true}},{"data":{"name":"k"},"mark":{"type":"line","color":"#e3242b","strokeWidth":1.8}}]},
{"width":110,"height":85,"encoding":{"x":{"field":"t","type":"quantitative","scale":{"domain":[2005,2016],"nice":false},"axis":{"labels":false,"title":null}},"y":{"field":"c5","type":"quantitative","scale":{"domain":[0,16],"nice":false},"axis":{"title":"COD(mg/L)","values":[0,2,4,6,8,10,12,14,16],"format":".1f"}}},"layer":[{"data":{"name":"m"},"mark":{"type":"line","point":true}},{"data":{"name":"k"},"mark":{"type":"line","color":"#e3242b","strokeWidth":1.8}}]},
{"width":110,"height":85,"encoding":{"x":{"field":"t","type":"quantitative","scale":{"domain":[2005,2016],"nice":false},"axis":{"labels":false,"title":null}},"y":{"field":"n5","type":"quantitative","scale":{"domain":[0,14],"nice":false},"axis":{"title":"TN(mg/L)","values":[0,2,4,6,8,10,12,14],"format":".1f"}}},"layer":[{"data":{"name":"m"},"mark":{"type":"line","point":true}},{"data":{"name":"k"},"mark":{"type":"line","color":"#e3242b","strokeWidth":1.8}}]},
{"width":110,"height":85,"encoding":{"x":{"field":"t","type":"quantitative","scale":{"domain":[2005,2016],"nice":false},"axis":{"labels":false,"title":null}},"y":{"field":"p5","type":"quantitative","scale":{"domain":[0,0.6],"nice":false},"axis":{"title":"TP(mg/L)","values":[0,0.1,0.2,0.3,0.4,0.5,0.6],"format":".3f"}}},"layer":[{"data":{"name":"m"},"mark":{"type":"line","point":true}},{"data":{"name":"k"},"mark":{"type":"line","color":"#e3242b","strokeWidth":1.8}}]},

{"width":1,"height":85,"view":{"stroke":null},"data":{"values":[{"g":"GR6"}]},"mark":"text","encoding":{"text":{"field":"g"}}},
{"width":110,"height":85,"encoding":{"x":{"field":"t","type":"quantitative","scale":{"domain":[2005,2016],"nice":false},"axis":{"labels":false,"title":null}},"y":{"field":"b6","type":"quantitative","scale":{"domain":[0,10],"nice":false},"axis":{"title":"BOD(mg/L)","values":[0,2,4,6,8,10],"format":".1f"}}},"layer":[{"data":{"name":"m"},"mark":{"type":"line","point":true}},{"data":{"name":"k"},"mark":{"type":"line","color":"#e3242b","strokeWidth":1.8}}]},
{"width":110,"height":85,"encoding":{"x":{"field":"t","type":"quantitative","scale":{"domain":[2005,2016],"nice":false},"axis":{"labels":false,"title":null}},"y":{"field":"c6","type":"quantitative","scale":{"domain":[0,16],"nice":false},"axis":{"title":"COD(mg/L)","values":[0,2,4,6,8,10,12,14,16],"format":".1f"}}},"layer":[{"data":{"name":"m"},"mark":{"type":"line","point":true}},{"data":{"name":"k"},"mark":{"type":"line","color":"#e3242b","strokeWidth":1.8}}]},
{"width":110,"height":85,"encoding":{"x":{"field":"t","type":"quantitative","scale":{"domain":[2005,2016],"nice":false},"axis":{"labels":false,"title":null}},"y":{"field":"n6","type":"quantitative","scale":{"domain":[0,14],"nice":false},"axis":{"title":"TN(mg/L)","values":[0,2,4,6,8,10,12,14],"format":".1f"}}},"layer":[{"data":{"name":"m"},"mark":{"type":"line","point":true}},{"data":{"name":"k"},"mark":{"type":"line","color":"#e3242b","strokeWidth":1.8}}]},
{"width":110,"height":85,"encoding":{"x":{"field":"t","type":"quantitative","scale":{"domain":[2005,2016],"nice":false},"axis":{"labels":false,"title":null}},"y":{"field":"p6","type":"quantitative","scale":{"domain":[0,0.5],"nice":false},"axis":{"title":"TP(mg/L)","values":[0,0.1,0.2,0.3,0.4,0.5],"format":".3f"}}},"layer":[{"data":{"name":"m"},"mark":{"type":"line","point":true}},{"data":{"name":"k"},"mark":{"type":"line","color":"#e3242b","strokeWidth":1.8}}]},

{"width":1,"height":85,"view":{"stroke":null},"data":{"values":[{"g":"GR7"}]},"mark":"text","encoding":{"text":{"field":"g"}}},
{"width":110,"height":85,"encoding":{"x":{"field":"t","type":"quantitative","scale":{"domain":[2005,2016],"nice":false},"axis":{"labels":false,"title":null}},"y":{"field":"b7","type":"quantitative","scale":{"domain":[0,12],"nice":false},"axis":{"title":"BOD(mg/L)","values":[0,2,4,6,8,10,12],"format":".1f"}}},"layer":[{"data":{"name":"m"},"mark":{"type":"line","point":true}},{"data":{"name":"k"},"mark":{"type":"line","color":"#e3242b","strokeWidth":1.8}}]},
{"width":110,"height":85,"encoding":{"x":{"field":"t","type":"quantitative","scale":{"domain":[2005,2016],"nice":false},"axis":{"labels":false,"title":null}},"y":{"field":"c7","type":"quantitative","scale":{"domain":[0,16],"nice":false},"axis":{"title":"COD(mg/L)","values":[0,2,4,6,8,10,12,14,16],"format":".1f"}}},"layer":[{"data":{"name":"m"},"mark":{"type":"line","point":true}},{"data":{"name":"k"},"mark":{"type":"line","color":"#e3242b","strokeWidth":1.8}}]},
{"width":110,"height":85,"encoding":{"x":{"field":"t","type":"quantitative","scale":{"domain":[2005,2016],"nice":false},"axis":{"labels":false,"title":null}},"y":{"field":"n7","type":"quantitative","scale":{"domain":[0,20],"nice":false},"axis":{"title":"TN(mg/L)","values":[0,5,10,15,20],"format":".1f"}}},"layer":[{"data":{"name":"m"},"mark":{"type":"line","point":true}},{"data":{"name":"k"},"mark":{"type":"line","color":"#e3242b","strokeWidth":1.8}}]},
{"width":110,"height":85,"encoding":{"x":{"field":"t","type":"quantitative","scale":{"domain":[2005,2016],"nice":false},"axis":{"labels":false,"title":null}},"y":{"field":"p7","type":"quantitative","scale":{"domain":[0,0.8],"nice":false},"axis":{"title":"TP(mg/L)","values":[0,0.2,0.4,0.6,0.8],"format":".3f"}}},"layer":[{"data":{"name":"m"},"mark":{"type":"line","point":true}},{"data":{"name":"k"},"mark":{"type":"line","color":"#e3242b","strokeWidth":1.8}}]},

{"width":1,"height":62,"view":{"stroke":null},"data":{"values":[{"g":"GR8"}]},"mark":"text","encoding":{"text":{"field":"g"}}},
{"width":110,"height":62,"encoding":{"x":{"field":"t","type":"quantitative","scale":{"domain":[2005,2016],"nice":false},"axis":{"title":"Time(year)","format":"d","titleFontSize":6,"titlePadding":2}},"y":{"field":"b8","type":"quantitative","scale":{"domain":[0,10],"nice":false},"axis":{"title":"BOD(mg/L)","values":[0,2,4,6,8,10],"format":".1f"}}},"layer":[{"data":{"name":"m"},"mark":{"type":"line","point":true}},{"data":{"name":"k"},"mark":{"type":"line","color":"#e3242b","strokeWidth":1.8}}]},
{"width":110,"height":62,"encoding":{"x":{"field":"t","type":"quantitative","scale":{"domain":[2005,2016],"nice":false},"axis":{"title":"Time(year)","format":"d","titleFontSize":6,"titlePadding":2}},"y":{"field":"c8","type":"quantitative","scale":{"domain":[4,16],"nice":false,"zero":false},"axis":{"title":"COD(mg/L)","values":[4,6,8,10,12,14,16],"format":".1f"}}},"layer":[{"data":{"name":"m"},"mark":{"type":"line","point":true}},{"data":{"name":"k"},"mark":{"type":"line","color":"#e3242b","strokeWidth":1.8}}]},
{"width":110,"height":62,"encoding":{"x":{"field":"t","type":"quantitative","scale":{"domain":[2005,2016],"nice":false},"axis":{"title":"Time(year)","format":"d","titleFontSize":6,"titlePadding":2}},"y":{"field":"n8","type":"quantitative","scale":{"domain":[3,11],"nice":false,"zero":false},"axis":{"title":"TN(mg/L)","values":[3,4,5,6,7,8,9,10,11],"format":".1f"}}},"layer":[{"data":{"name":"m"},"mark":{"type":"line","point":true}},{"data":{"name":"k"},"mark":{"type":"line","color":"#e3242b","strokeWidth":1.8}}]},
{"width":110,"height":62,"encoding":{"x":{"field":"t","type":"quantitative","scale":{"domain":[2005,2016],"nice":false},"axis":{"title":"Time(year)","format":"d","titleFontSize":6,"titlePadding":2}},"y":{"field":"p8","type":"quantitative","scale":{"domain":[0,1.4],"nice":false},"axis":{"title":"TP(mg/L)","values":[0,0.2,0.4,0.6,0.8,1.0,1.2,1.4],"format":".3f"}}},"layer":[{"data":{"name":"m"},"mark":{"type":"line","point":true}},{"data":{"name":"k"},"mark":{"type":"line","color":"#e3242b","strokeWidth":1.8}}]},

{"width":1,"height":36,"view":{"stroke":null},"data":{"values":[{"c":""}]},"mark":"text","encoding":{"text":{"field":"c"}}},
{"width":110,"height":36,"view":{"stroke":null},"data":{"values":[{"c":"(a) BOD"}]},"mark":{"type":"text","dy":9},"encoding":{"text":{"field":"c"}}},
{"width":110,"height":36,"view":{"stroke":null},"data":{"values":[{"c":"(b) COD"}]},"mark":{"type":"text","dy":9},"encoding":{"text":{"field":"c"}}},
{"width":110,"height":36,"view":{"stroke":null},"data":{"values":[{"c":"(c) TN"}]},"mark":{"type":"text","dy":9},"encoding":{"text":{"field":"c"}}},
{"width":110,"height":36,"view":{"stroke":null},"data":{"values":[{"c":"(d) TP"}]},"mark":{"type":"text","dy":9},"encoding":{"text":{"field":"c"}}}
]
}
